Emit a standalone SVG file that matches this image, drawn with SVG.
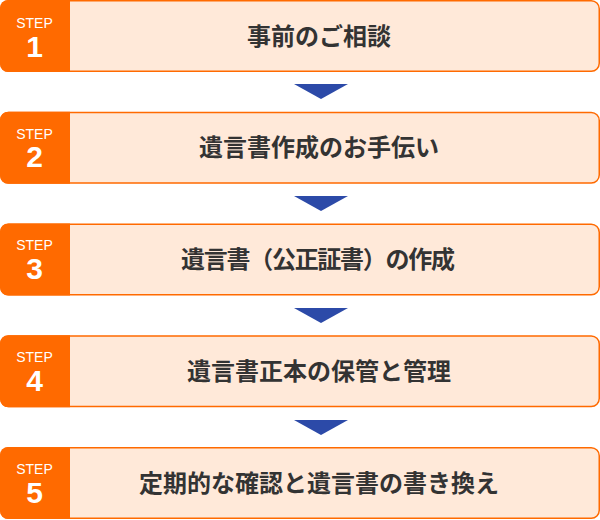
<svg xmlns="http://www.w3.org/2000/svg" width="600" height="520" viewBox="0 0 600 520">
<style>
.box{fill:#ffe9d9;stroke:#ff6a00;stroke-width:1.5}
.tab{fill:#ff6a00}
.step{font-family:"Liberation Sans",Arial,sans-serif;font-size:14px;fill:#fff;text-anchor:middle}
.num{font-family:"Liberation Sans",Arial,sans-serif;font-size:30px;font-weight:bold;fill:#fff;text-anchor:middle}
.label{font-family:"Noto Sans CJK JP","Noto Sans",sans-serif;font-size:24px;font-weight:bold;fill:#333;text-anchor:middle}
.arrow{fill:#2c4aa8}
</style>
<g id="connectors">
<polygon class="arrow" points="294,84 348,84 321,99"/>
<polygon class="arrow" points="294,196 348,196 321,211"/>
<polygon class="arrow" points="294,308 348,308 321,323"/>
<polygon class="arrow" points="294,420 348,420 321,435"/>
</g>
<g id="step1">
<rect class="box" x="0.75" y="0.75" width="598.5" height="70.5" rx="8"/>
<path class="tab" d="M70,0 V72 H8 A8,8 0 0 1 0,64 V8 A8,8 0 0 1 8,0 Z"/>
<text class="step" x="34.5" y="27.5">STEP</text>
<text class="num" x="34.5" y="57">1</text>
<text class="label" x="319" y="44.5">事前のご相談</text>
</g>
<g id="step2">
<rect class="box" x="0.75" y="112.5" width="598.5" height="70.5" rx="8"/>
<path class="tab" d="M70,111.75 V183.75 H8 A8,8 0 0 1 0,175.75 V119.75 A8,8 0 0 1 8,111.75 Z"/>
<text class="step" x="34.5" y="138.5">STEP</text>
<text class="num" x="34.5" y="167">2</text>
<text class="label" x="319" y="156">遺言書作成のお手伝い</text>
</g>
<g id="step3">
<rect class="box" x="0.75" y="224.25" width="598.5" height="70.5" rx="8"/>
<path class="tab" d="M70,223.5 V295.5 H8 A8,8 0 0 1 0,287.5 V231.5 A8,8 0 0 1 8,223.5 Z"/>
<text class="step" x="34.5" y="250">STEP</text>
<text class="num" x="34.5" y="279">3</text>
<text class="label" x="318" y="267.5" textLength="274" lengthAdjust="spacing">遺言書（公正証書）の作成</text>
</g>
<g id="step4">
<rect class="box" x="0.75" y="336" width="598.5" height="70.5" rx="8"/>
<path class="tab" d="M70,335.25 V407.25 H8 A8,8 0 0 1 0,399.25 V343.25 A8,8 0 0 1 8,335.25 Z"/>
<text class="step" x="34.5" y="362">STEP</text>
<text class="num" x="34.5" y="391">4</text>
<text class="label" x="319" y="379.5">遺言書正本の保管と管理</text>
</g>
<g id="step5">
<rect class="box" x="0.75" y="447.75" width="598.5" height="70.5" rx="8"/>
<path class="tab" d="M70,447 V519 H8 A8,8 0 0 1 0,511 V455 A8,8 0 0 1 8,447 Z"/>
<text class="step" x="34.5" y="474">STEP</text>
<text class="num" x="34.5" y="503">5</text>
<text class="label" x="319" y="491.5">定期的な確認と遺言書の書き換え</text>
</g>
</svg>
